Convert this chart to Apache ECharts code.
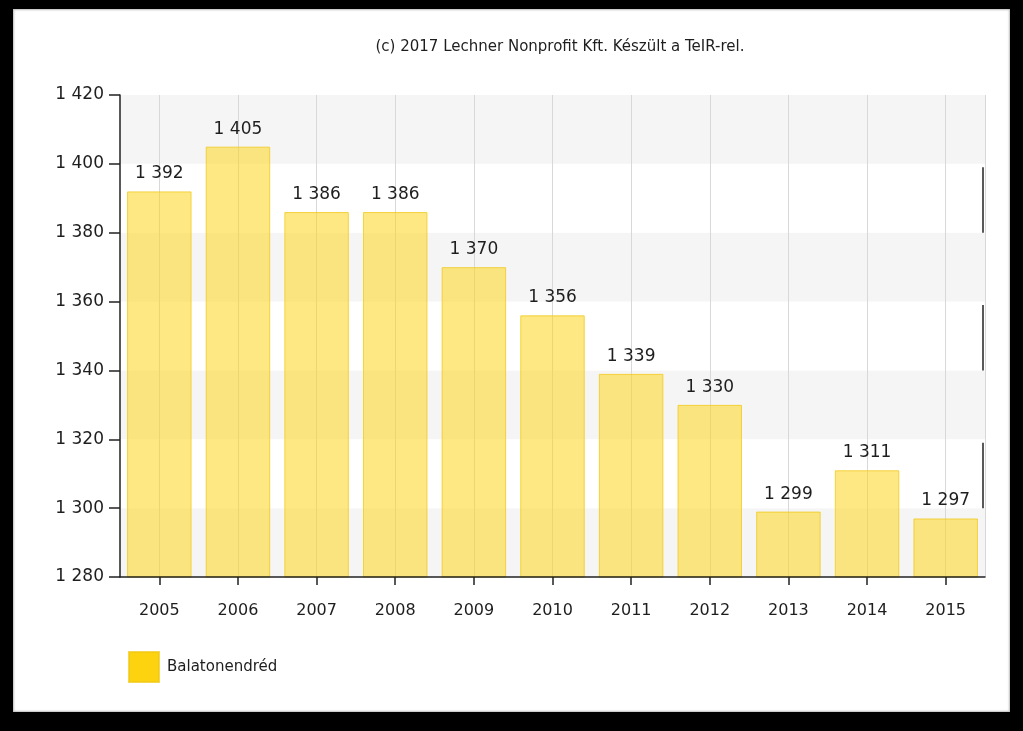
<!DOCTYPE html>
<html>
<head>
<meta charset="utf-8">
<script src="https://cdn.jsdelivr.net/npm/echarts@6/dist/echarts.min.js"></script>
<style>
html,body{margin:0;padding:0;background:#000;width:1023px;height:731px;overflow:hidden;}
#frame{position:absolute;left:13px;top:9px;width:997px;height:703px;background:#fff;box-shadow:inset 0 0 2px 1px #bbb;}
#chart{position:absolute;left:0;top:0;width:1023px;height:731px;}
</style>
</head>
<body>
<div id="frame"></div>
<div id="chart"></div>
<script>
const titleText = '(c) 2017 Lechner Nonprofit Kft. Készült a TeIR-rel.';
const seriesName = 'Balatonendréd';
const years = ['2005','2006','2007','2008','2009','2010','2011','2012','2013','2014','2015'];
const values = [1392, 1405, 1386, 1386, 1370, 1356, 1339, 1330, 1299, 1311, 1297];
const yMin = 1280, yMax = 1420, yStep = 20;
// right-edge dark segments seen on the white bands of the original
const edgeBands = [[1380, 1399], [1340, 1359], [1300, 1319]];

function fmt(v){
  const s = String(Math.round(v));
  return s.replace(/\B(?=(\d{3})+(?!\d))/g, ' ');
}

// half-slot helper axis so vertical grid lines fall on category centres
const halfSlots = years.flatMap(y => [y + 'a', y + 'b']);

const chart = echarts.init(document.getElementById('chart'), null, {renderer:'canvas'});
chart.setOption({
  backgroundColor: 'transparent',
  animation: false,
  textStyle: {fontFamily: 'DejaVu Sans', color: '#1e1e1e'},
  title: {
    text: titleText,
    left: 555, top: 35, textAlign: 'center',
    textStyle: {fontFamily: 'DejaVu Sans', fontSize: 15, fontWeight: 'normal', color: '#1e1e1e'}
  },
  legend: {
    left: 128, top: 651, padding: 0,
    itemWidth: 30, itemHeight: 30, itemGap: 8,
    icon: 'rect',
    textStyle: {fontFamily: 'DejaVu Sans', fontSize: 15, color: '#1e1e1e', padding: [0, 0, 0, 3]},
    data: [{name: seriesName, itemStyle: {color: '#FDD20E'}}]
  },
  grid: {left: 120, right: 38, top: 95, bottom: 154, containLabel: false},
  xAxis: [{
    type: 'category',
    data: years,
    axisLine: {lineStyle: {color: '#222', width: 1.5}},
    axisTick: {show: true, alignWithLabel: true, length: 8, lineStyle: {color: '#222', width: 1.5}},
    axisLabel: {fontSize: 16, color: '#1e1e1e', margin: 26, fontFamily: 'DejaVu Sans'},
    splitLine: {show: false},
    z: 3
  }, {
    type: 'category',
    data: halfSlots,
    position: 'bottom',
    show: true,
    axisLine: {show: false},
    axisTick: {show: false},
    axisLabel: {show: false},
    splitLine: {show: true, interval: (i) => i % 2 === 1, lineStyle: {color: '#d8d8d8', width: 1}}
  }],
  yAxis: {
    type: 'value',
    min: yMin, max: yMax, interval: yStep,
    axisLine: {show: true, lineStyle: {color: '#222', width: 1.5}},
    axisTick: {show: true, length: 11, lineStyle: {color: '#222', width: 1.5}},
    axisLabel: {fontSize: 17, color: '#1e1e1e', margin: 16, formatter: fmt, fontFamily: 'DejaVu Sans'},
    splitLine: {show: false},
    splitArea: {show: true, areaStyle: {color: ['#f5f5f5', '#ffffff']}}
  },
  series: [{
    name: seriesName,
    type: 'bar',
    data: values,
    barWidth: '82%',
    z: 1,
    itemStyle: {color: 'rgba(254, 214, 30, 0.55)', borderColor: 'rgba(240, 200, 20, 0.75)', borderWidth: 1},
    label: {
      show: true, position: 'top', distance: 9,
      formatter: p => fmt(p.value),
      fontSize: 17, color: '#1e1e1e', fontFamily: 'DejaVu Sans'
    }
  }, {
    name: 'edge',
    type: 'custom',
    silent: true,
    data: edgeBands.map(b => [years[years.length - 1], b[0], b[1]]),
    encode: {x: 0, y: [1, 2]},
    renderItem: function (params, api) {
      const lo = api.coord([api.value(0), api.value(1)]);
      const hi = api.coord([api.value(0), api.value(2)]);
      const x = params.coordSys.x + params.coordSys.width - 2;
      return {type: 'line', shape: {x1: x, y1: hi[1], x2: x, y2: lo[1]}, style: {stroke: '#222', lineWidth: 1.5}};
    },
    z: 4
  }]
});
</script>
</body>
</html>
